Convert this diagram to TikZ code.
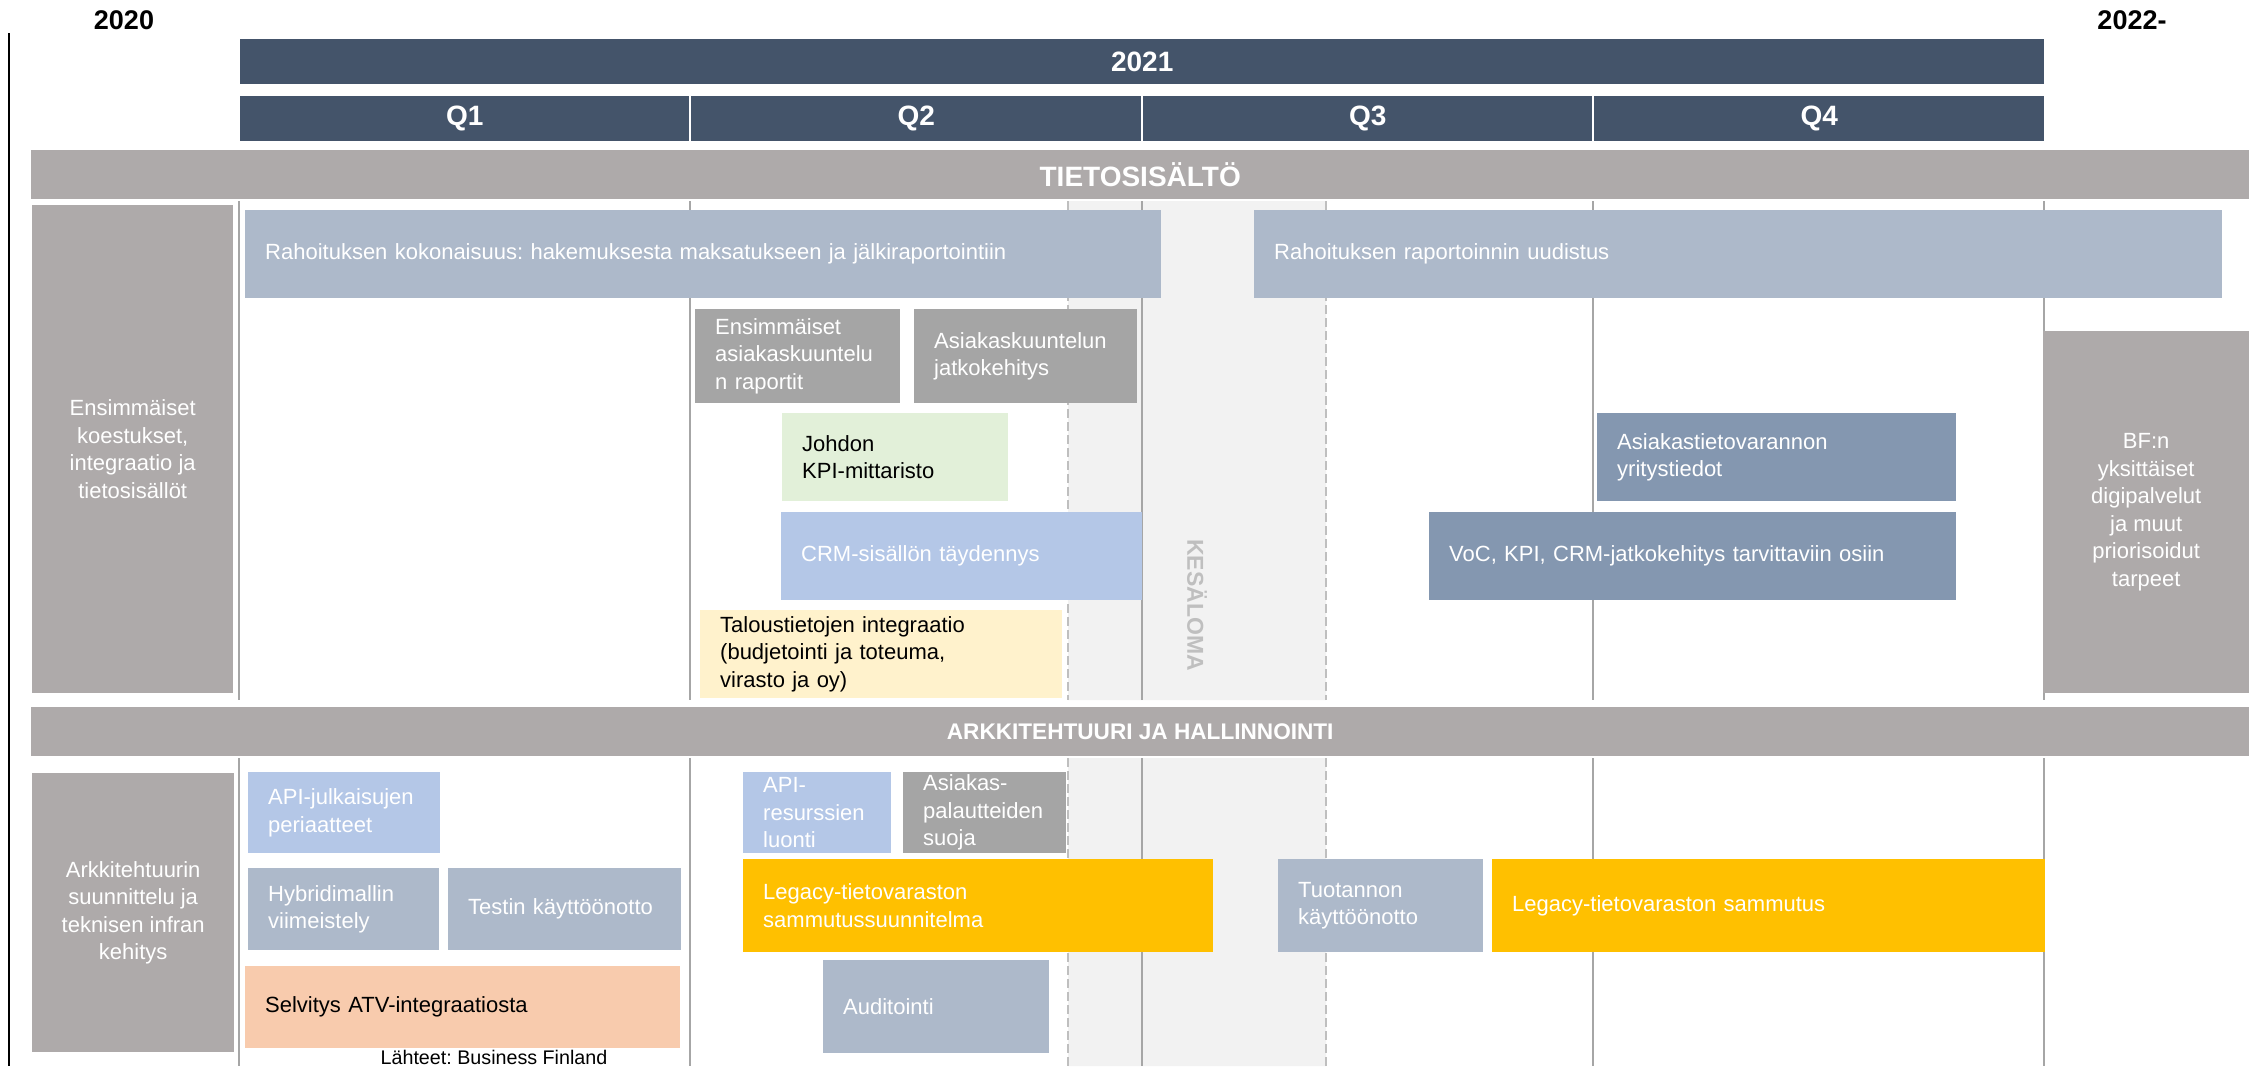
\documentclass[tikz,border=0pt]{standalone}
\usepackage{fontspec}
\setmainfont{Liberation Sans}
\frenchspacing

\definecolor{navy}{HTML}{44546A}
\definecolor{secgray}{HTML}{AEAAAA}
\definecolor{bluegray}{HTML}{ADB9CA}
\definecolor{steel}{HTML}{8497B0}
\definecolor{skyblue}{HTML}{B4C7E7}
\definecolor{midgray}{HTML}{A5A5A5}
\definecolor{palegreen}{HTML}{E2F0D9}
\definecolor{paleyellow}{HTML}{FFF2CC}
\definecolor{peach}{HTML}{F8CBAD}
\definecolor{gold}{HTML}{FFC000}
\definecolor{band}{HTML}{F2F2F2}
\definecolor{gridgray}{HTML}{A6A6A6}
\definecolor{dashgray}{HTML}{BFBFBF}

\tikzset{
  every node/.style={font=\fontsize{22}{27.5}\selectfont, inner sep=0pt},
  wh/.code 2 args={%
    \pgfmathsetlengthmacro\tbw{#1}%
    \pgfmathsetlengthmacro\tbh{#2}%
    \edef\tbset{\noexpand\pgfkeysalso{minimum width=\tbw, minimum height=\tbh}}\tbset},
  twh/.code 2 args={%
    \pgfmathsetlengthmacro\tbw{#1-40}%
    \pgfmathsetlengthmacro\tbh{#2}%
    \edef\tbset{\noexpand\pgfkeysalso{text width=\tbw, minimum height=\tbh}}\tbset},
  qbar/.style={anchor=north west, fill=navy, text=white, font=\fontsize{28}{34}\selectfont\bfseries},
  secbar/.style={anchor=north west, fill=secgray, text=white, font=\fontsize{28}{34}\selectfont\bfseries},
  side/.style={anchor=north west, fill=secgray, text=white, align=center},
  task/.style={anchor=north west, inner xsep=20pt, align=left, text=white},
  year/.style={anchor=base, font=\fontsize{27}{32}\selectfont\bfseries},
}

\begin{document}
\begin{tikzpicture}[x=1pt, y=-1pt]
\useasboundingbox (0,0) rectangle (2267,1066);
\fill[band] (1068,201) rectangle (1326,700) (1068,758) rectangle (1326,1066);
\foreach \gx in {239,690,1142,1593,2044}
  \draw[gridgray, line width=1.5pt] (\gx,201) -- (\gx,700) (\gx,758) -- (\gx,1066);
\foreach \gx in {1068,1326}
  \draw[dashgray, line width=1.3pt, dash pattern=on 9pt off 4pt] (\gx,201) -- (\gx,700) (\gx,758) -- (\gx,1066);
\draw[line width=2pt] (9,33) -- (9,1066);

\path
(124,29) node[year] (y20) {2020}
(2132,29) node[year] (y22) {2022-}
(240,39) node[qbar, wh={1804}{45}] (y21) {2021}
(240,96) node[qbar, wh={449}{45}] (q1) {Q1}
(691,96) node[qbar, wh={450}{45}] (q2) {Q2}
(1143,96) node[qbar, wh={449}{45}] (q3) {Q3}
(1594,96) node[qbar, wh={450}{45}] (q4) {Q4}
(31,150) node[secbar, wh={2218}{49}] (tieto) {TIETOSISÄLTÖ}
(31,707) node[secbar, wh={2218}{49}, font=\fontsize{22.6}{27}\selectfont\bfseries] (arkki) {ARKKITEHTUURI JA HALLINNOINTI};

\path
(32,205) node[side, wh={201}{488}] (ls1) {Ensimmäiset\\koestukset,\\integraatio ja\\tietosisällöt}
(245,210) node[task, fill=bluegray, twh={916}{88}] (rk) {Rahoituksen kokonaisuus: hakemuksesta maksatukseen ja jälkiraportointiin}
(1254,210) node[task, fill=bluegray, twh={968}{88}] (ru) {Rahoituksen raportoinnin uudistus}
(695,309) node[task, fill=midgray, twh={205}{94}] (ak1) {Ensimmäiset\\asiakaskuuntelu\\n raportit}
(914,309) node[task, fill=midgray, twh={223}{94}] (ak2) {Asiakaskuuntelun\\jatkokehitys}
(782,413) node[task, fill=palegreen, text=black, twh={226}{88}] (kpi) {Johdon\\KPI-mittaristo}
(781,512) node[task, fill=skyblue, twh={361}{88}] (crm) {CRM-sisällön täydennys}
(700,610) node[task, fill=paleyellow, text=black, twh={362}{88}] (tal) {Taloustietojen integraatio\\(budjetointi ja toteuma,\\virasto ja oy)}
(1597,413) node[task, fill=steel, twh={359}{88}] (atv) {Asiakastietovarannon\\yritystiedot}
(1429,512) node[task, fill=steel, twh={527}{88}] (voc) {VoC, KPI, CRM-jatkokehitys tarvittaviin osiin}
(2043,331) node[side, wh={206}{362}] (bf) {BF:n\\yksittäiset\\digipalvelut\\ja muut\\priorisoidut\\tarpeet}
(1197,605) node[rotate=-90, text=dashgray, font=\fontsize{23}{28}\selectfont\bfseries] (kesa) {KESÄLOMA};

\path
(32,773) node[side, wh={202}{279}] (ls2) {Arkkitehtuurin\\suunnittelu ja\\teknisen infran\\kehitys}
(248,772) node[task, fill=skyblue, twh={192}{81}] (apj) {API-julkaisujen\\periaatteet}
(248,868) node[task, fill=bluegray, twh={191}{82}] (hyb) {Hybridimallin\\viimeistely}
(448,868) node[task, fill=bluegray, twh={233}{82}] (tst) {Testin käyttöönotto}
(245,966) node[task, fill=peach, text=black, twh={435}{82}] (selv) {Selvitys ATV-integraatiosta}
(743,772) node[task, fill=skyblue, twh={148}{81}] (apr) {API-\\resurssien\\luonti}
(903,772) node[task, fill=midgray, twh={163}{81}] (pal) {Asiakas-\\palautteiden\\suoja}
(743,859) node[task, fill=gold, twh={470}{93}] (lgp) {Legacy-tietovaraston\\sammutussuunnitelma}
(823,960) node[task, fill=bluegray, twh={226}{93}] (aud) {Auditointi}
(1278,859) node[task, fill=bluegray, twh={205}{93}] (tuo) {Tuotannon\\käyttöönotto}
(1492,859) node[task, fill=gold, twh={553}{93}] (lgs) {Legacy-tietovaraston sammutus}
(494,1064) node[anchor=base, font=\fontsize{19.7}{24}\selectfont] (src) {Lähteet: Business Finland};
\end{tikzpicture}
\end{document}
